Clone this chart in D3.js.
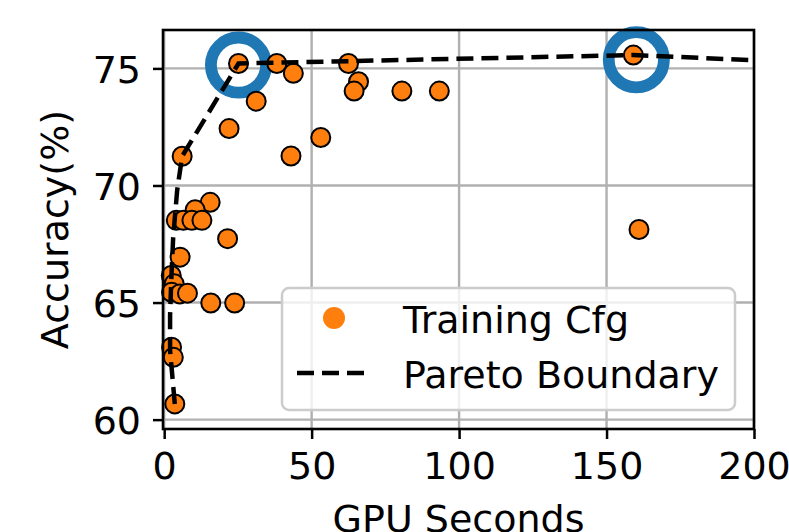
<!DOCTYPE html>
<html lang="en">
<head>
    <title>GPU Seconds vs Accuracy</title>
    <meta charset="utf-8"/>
    <script src="https://d3js.org/d3.v7.min.js"></script>
    <style>
        body { margin: 0; background: #fff; }
        svg text { font-family: "DejaVu Sans", sans-serif; fill: #000; }
    </style>
</head>
<body>
<div id="viz">
    <svg width="789" height="532"></svg>
</div>

<script type="text/javascript">

    // training configurations (GPU seconds, accuracy %)
    const gpuSeconds = [25.2, 38.2, 43.8, 31.2, 22.0, 6.1, 43.0, 53.1, 62.5, 65.9, 64.4, 80.6, 93.3,
        159.1, 161.0, 15.6, 10.5, 4.1, 6.5, 9.4, 12.8, 21.5, 5.4, 2.4, 3.4, 2.5, 5.3, 7.9,
        15.8, 23.9, 2.5, 3.1, 3.6];
    const accuracy = [75.21, 75.21, 74.79, 73.60, 72.43, 71.25, 71.26, 72.05, 75.21, 74.43, 74.03, 74.03, 74.03,
        75.57, 68.12, 69.28, 68.96, 68.51, 68.51, 68.51, 68.51, 67.73, 66.94, 66.16, 65.80, 65.44, 65.37, 65.40,
        64.98, 64.98, 63.09, 62.66, 60.67];

    // dashed pareto boundary
    const paretoX = [3.6, 2.0, 2.0, 2.4, 3.05, 4.4, 6.1, 25.2, 159.1, 200];
    const paretoY = [60.67, 62.95, 64.45, 65.94, 67.78, 69.79, 71.25, 75.21, 75.57, 75.35];

    // highlighted configs (blue rings)
    const highlightX = [25.2, 160.1];
    const highlightY = [75.14, 75.37];

    const xTicks = [0, 50, 100, 150, 200];
    const yTicks = [60, 65, 70, 75];
    const legendLabels = ["Training Cfg", "Pareto Boundary"];

    const orange = "#ff7f0e", blue = "#1f77b4", grid = "#b0b0b0";
    const fontSize = "38px";

    let points = gpuSeconds.map((x, i) => ({x: x, y: accuracy[i]}));
    let pareto = paretoX.map((x, i) => ({x: x, y: paretoY[i]}));
    let rings = highlightX.map((x, i) => ({x: x, y: highlightY[i]}));

    const plotLeft = 163, plotRight = 754, plotTop = 30, plotBottom = 429;

    let xScale = d3.scaleLinear().domain([-0.4, 200]).range([plotLeft, plotRight]);
    let yScale = d3.scaleLinear().domain([59.6, 76.64]).range([plotBottom, plotTop]);

    let svg = d3.select("svg");

    // grid
    svg.append("g").selectAll("line").data(xTicks).join("line")
        .attr("x1", d => xScale(d)).attr("x2", d => xScale(d))
        .attr("y1", plotTop).attr("y2", plotBottom)
        .attr("stroke", grid).attr("stroke-width", 2.4);
    svg.append("g").selectAll("line").data(yTicks).join("line")
        .attr("x1", plotLeft).attr("x2", plotRight)
        .attr("y1", d => yScale(d)).attr("y2", d => yScale(d))
        .attr("stroke", grid).attr("stroke-width", 2.4);

    // axes
    let xAxis = d3.axisBottom(xScale).tickValues(xTicks).tickSize(10).tickPadding(13);
    let yAxis = d3.axisLeft(yScale).tickValues(yTicks).tickSize(10).tickPadding(12);

    let xG = svg.append("g").attr("transform", "translate(0," + plotBottom + ")").call(xAxis);
    let yG = svg.append("g").attr("transform", "translate(" + plotLeft + ",0)").call(yAxis);
    [xG, yG].forEach(g => {
        g.select(".domain").remove();
        g.selectAll(".tick line").attr("stroke", "#000").attr("stroke-width", 2.5);
        g.selectAll(".tick text").style("font-size", fontSize).attr("fill", "#000");
    });
    yG.selectAll(".tick text").attr("dy", "0.36em");

    // rings
    svg.append("g").selectAll("circle").data(rings).join("circle")
        .attr("cx", d => xScale(d.x)).attr("cy", d => yScale(d.y))
        .attr("r", 27.6)
        .attr("fill", "none").attr("stroke", blue).attr("stroke-width", 11.8);

    // scatter
    svg.append("g").selectAll("circle").data(points).join("circle")
        .attr("cx", d => xScale(d.x)).attr("cy", d => yScale(d.y))
        .attr("r", 9.5)
        .attr("fill", orange).attr("stroke", "#000").attr("stroke-width", 2);

    // pareto line
    let line = d3.line().x(d => xScale(d.x)).y(d => yScale(d.y));
    svg.append("path")
        .attr("d", line(pareto))
        .attr("fill", "none")
        .attr("stroke", "#000")
        .attr("stroke-width", 4.5)
        .attr("stroke-dasharray", "17,8");

    // frame
    svg.append("rect")
        .attr("x", plotLeft).attr("y", plotTop)
        .attr("width", plotRight - plotLeft).attr("height", plotBottom - plotTop)
        .attr("fill", "none").attr("stroke", "#000").attr("stroke-width", 2.6);

    // legend
    let legend = svg.append("g");
    legend.append("rect")
        .attr("x", 282).attr("y", 288).attr("width", 453).attr("height", 122)
        .attr("rx", 7)
        .attr("fill", "#fff").attr("fill-opacity", 0.8)
        .attr("stroke", "#cccccc").attr("stroke-width", 2.5);
    legend.append("circle")
        .attr("cx", 334).attr("cy", 318).attr("r", 11)
        .attr("fill", orange);
    legend.append("line")
        .attr("x1", 297).attr("x2", 367).attr("y1", 373).attr("y2", 373)
        .attr("stroke", "#000").attr("stroke-width", 4.5)
        .attr("stroke-dasharray", "17,8");
    legend.selectAll("text").data(legendLabels).join("text")
        .attr("x", 403).attr("y", (d, i) => 333 + i * 55)
        .style("font-size", fontSize)
        .text(d => d);

    // axis labels
    svg.append("text")
        .attr("x", (plotLeft + plotRight) / 2).attr("y", 532)
        .attr("text-anchor", "middle")
        .style("font-size", fontSize)
        .text("GPU Seconds");
    svg.append("text")
        .attr("transform", "translate(68," + (plotTop + plotBottom) / 2 + ") rotate(-90)")
        .attr("text-anchor", "middle")
        .style("font-size", fontSize)
        .text("Accuracy(%)");

</script>
</body>
</html>
